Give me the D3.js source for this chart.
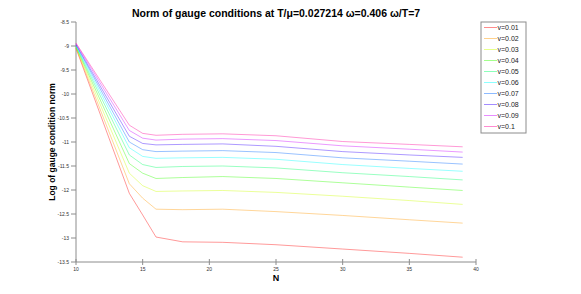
<!DOCTYPE html>
<html>
<head>
<meta charset="utf-8">
<script src="https://cdn.jsdelivr.net/npm/d3@7"></script>
<style>
  body { margin: 0; background: #fff; }
  svg { display: block; font-family: "Liberation Sans", Arial, sans-serif; }
</style>
</head>
<body>
<div id="chart"></div>
<script>
const nValues = [10, 14, 15, 16, 18, 21, 25, 30, 35, 39];

const seriesNames = ['v=0.01', 'v=0.02', 'v=0.03', 'v=0.04', 'v=0.05',
                     'v=0.06', 'v=0.07', 'v=0.08', 'v=0.09', 'v=0.1'];

const v001 = [-9.05, -12.07, -12.52, -12.98, -13.08, -13.09, -13.14, -13.23, -13.32, -13.40];
const v002 = [-9.04, -11.87, -12.17, -12.40, -12.41, -12.40, -12.45, -12.53, -12.62, -12.69];
const v003 = [-9.03, -11.65, -11.91, -12.03, -12.02, -12.01, -12.05, -12.13, -12.22, -12.30];
const v004 = [-9.02, -11.45, -11.65, -11.76, -11.74, -11.72, -11.76, -11.85, -11.94, -12.01];
const v005 = [-9.01, -11.27, -11.47, -11.53, -11.51, -11.50, -11.54, -11.64, -11.72, -11.79];
const v006 = [-9.00, -11.12, -11.30, -11.34, -11.33, -11.32, -11.36, -11.47, -11.55, -11.61];
const v007 = [-8.98, -11.00, -11.16, -11.20, -11.19, -11.18, -11.22, -11.33, -11.40, -11.46];
const v008 = [-8.97, -10.88, -11.03, -11.06, -11.05, -11.04, -11.09, -11.20, -11.27, -11.32];
const v009 = [-8.95, -10.76, -10.92, -10.96, -10.94, -10.93, -10.97, -11.08, -11.15, -11.21];
const v010 = [-8.94, -10.65, -10.82, -10.86, -10.84, -10.83, -10.87, -10.99, -11.05, -11.10];

const seriesValues = [v001, v002, v003, v004, v005, v006, v007, v008, v009, v010];

const xTicks = [10, 15, 20, 25, 30, 35, 40];
const yTicks = [-8.5, -9, -9.5, -10, -10.5, -11, -11.5, -12, -12.5, -13, -13.5];

const width = 581;
const height = 294;
const margin = { left: 76, right: 105, top: 22, bottom: 32 };

const x = d3.scaleLinear().domain([10, 40]).range([margin.left, width - margin.right]);
const y = d3.scaleLinear().domain([-8.5, -13.5]).range([margin.top, height - margin.bottom]);

// hsv(10) colour map
const color = i => d3.hsl(i * 36, 1, 0.5).toString();

const svg = d3.select('#chart')
  .append('svg')
  .attr('width', width)
  .attr('height', height);

// axes
const axisColor = '#8c8c8c';
svg.append('line')
  .attr('x1', x(10)).attr('x2', x(40))
  .attr('y1', y(-13.5)).attr('y2', y(-13.5))
  .attr('stroke', axisColor);
svg.append('line')
  .attr('x1', x(10)).attr('x2', x(10))
  .attr('y1', y(-8.5)).attr('y2', y(-13.5))
  .attr('stroke', axisColor);

svg.selectAll('.xtick')
  .data(xTicks)
  .enter().append('line')
  .attr('class', 'xtick')
  .attr('x1', d => x(d)).attr('x2', d => x(d))
  .attr('y1', y(-13.5) - 3).attr('y2', y(-13.5) + 3)
  .attr('stroke', axisColor);

svg.selectAll('.xlabel')
  .data(xTicks)
  .enter().append('text')
  .attr('x', d => x(d))
  .attr('y', y(-13.5) + 8.5)
  .attr('text-anchor', 'middle')
  .attr('font-size', '5px')
  .attr('fill', '#333')
  .text(d => d);

svg.selectAll('.ytick')
  .data(yTicks)
  .enter().append('line')
  .attr('class', 'ytick')
  .attr('x1', x(10) - 5).attr('x2', x(10))
  .attr('y1', d => y(d)).attr('y2', d => y(d))
  .attr('stroke', axisColor);

svg.selectAll('.ylabel')
  .data(yTicks)
  .enter().append('text')
  .attr('x', x(10) - 7)
  .attr('y', d => y(d) + 1.8)
  .attr('text-anchor', 'end')
  .attr('font-size', '5px')
  .attr('fill', '#333')
  .text(d => d);

// curves
const line = d3.line()
  .x((d, i) => x(nValues[i]))
  .y(d => y(d));

svg.selectAll('.curve')
  .data(seriesValues)
  .enter().append('path')
  .attr('class', 'curve')
  .attr('d', line)
  .attr('fill', 'none')
  .attr('stroke', (d, i) => color(i))
  .attr('stroke-opacity', 0.4)
  .attr('stroke-width', 1);

// titles
svg.append('text')
  .attr('x', (x(10) + x(40)) / 2)
  .attr('y', 17)
  .attr('text-anchor', 'middle')
  .attr('font-size', '10.5px')
  .attr('font-weight', 'bold')
  .text('Norm of gauge conditions at T/\u03bc=0.027214 \u03c9=0.406 \u03c9/T=7');

svg.append('text')
  .attr('x', (x(10) + x(40)) / 2)
  .attr('y', 281)
  .attr('text-anchor', 'middle')
  .attr('font-size', '9px')
  .attr('font-weight', 'bold')
  .text('N');

svg.append('text')
  .attr('transform', `translate(55,${(y(-8.5) + y(-13.5)) / 2}) rotate(-90)`)
  .attr('text-anchor', 'middle')
  .attr('font-size', '8.5px')
  .attr('font-weight', 'bold')
  .text('Log of gauge condition norm');

// legend
const legend = svg.append('g').attr('transform', 'translate(481,22)');
legend.append('rect')
  .attr('width', 45)
  .attr('height', 111)
  .attr('fill', '#fff')
  .attr('stroke', axisColor);

const item = legend.selectAll('.item')
  .data(seriesNames)
  .enter().append('g')
  .attr('class', 'item')
  .attr('transform', (d, i) => `translate(0,${5.5 + i * 11})`);

item.append('line')
  .attr('x1', 3).attr('x2', 16)
  .attr('stroke', (d, i) => color(i))
  .attr('stroke-opacity', 0.45);

item.append('text')
  .attr('x', 16.5)
  .attr('y', 2.5)
  .attr('font-size', '7px')
  .attr('fill', '#222')
  .text(d => d);
</script>
</body>
</html>
